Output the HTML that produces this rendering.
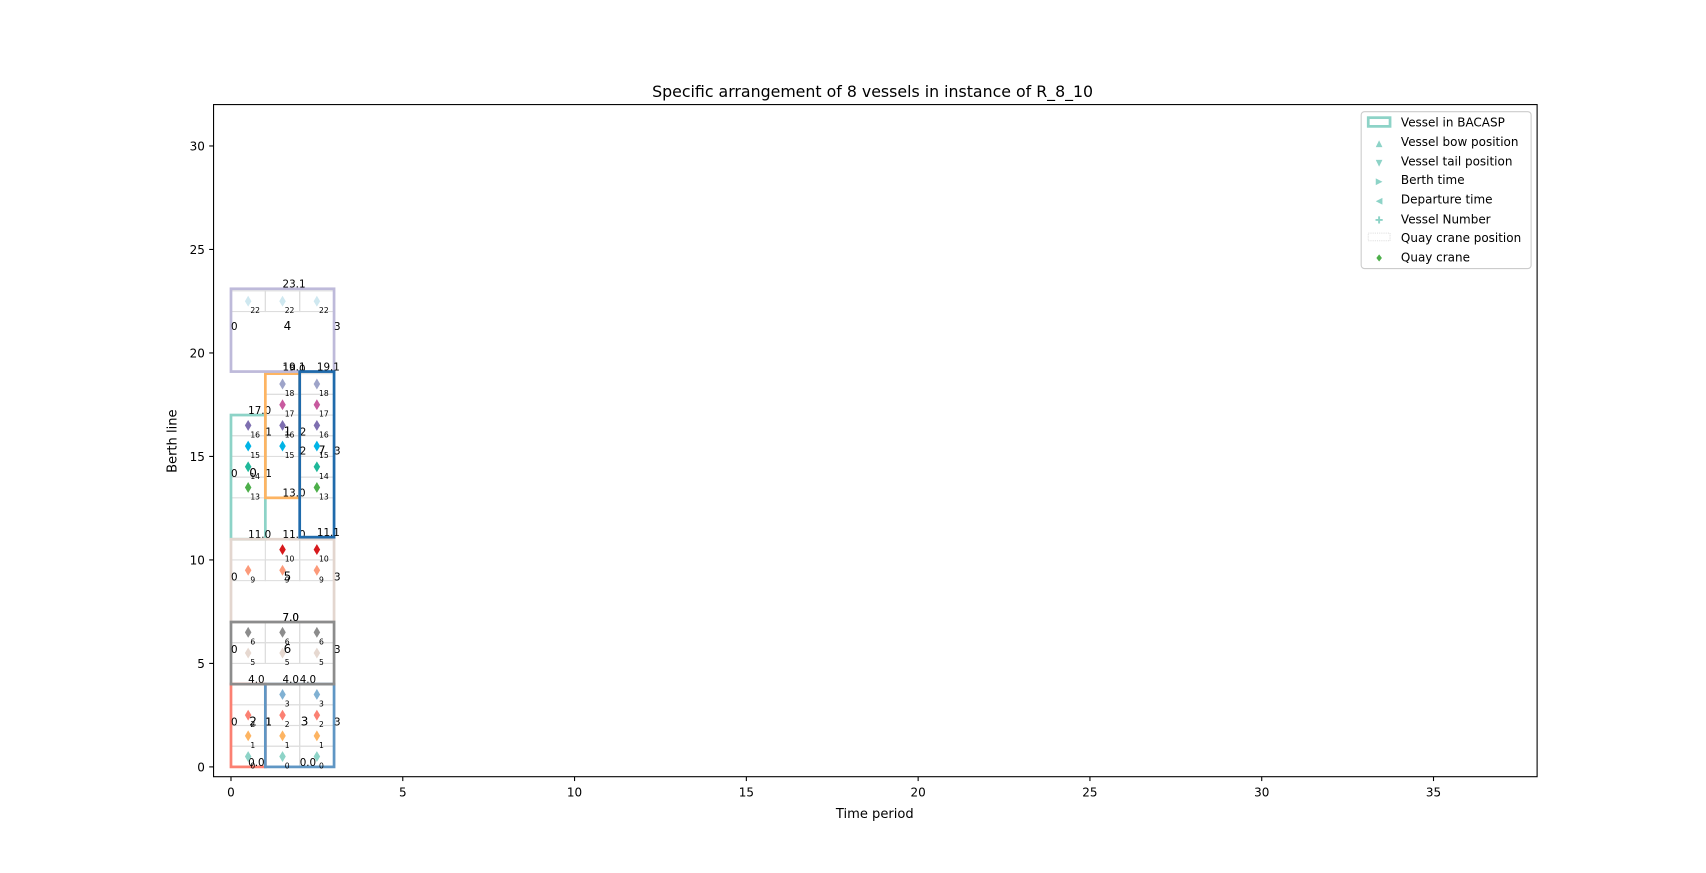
<!DOCTYPE html>
<html><head><meta charset="utf-8">
<style>
body{margin:0;background:#fff;}
svg{display:block;font-family:"DejaVu Sans","Liberation Sans",sans-serif;}
</style></head>
<body>
<svg id="chart" width="1706" height="873" viewBox="0 0 1566 801.4">
<rect width="1566" height="802" fill="#fff"/>
<text x="801" y="89" font-size="14.5" text-anchor="middle">Specific arrangement of 8 vessels in instance of R_8_10</text>
<g id="plot"></g>
<rect x="196" y="96" width="1215" height="617" fill="none" stroke="#000" stroke-width="1"/>
<text x="803" y="751" font-size="12" text-anchor="middle">Time period</text>
<text x="0" y="0" font-size="12" text-anchor="middle" transform="translate(162,405) rotate(-90)">Berth line</text>
<g>
<rect x="1249.5" y="102.5" width="156" height="144" rx="3" fill="#fff" stroke="#ccc"/>
<rect x="1256" y="108" width="20" height="8" fill="none" stroke="#8dd3c7" stroke-width="2.5"/>
<text x="1286" y="116" font-size="11">Vessel in BACASP</text>
<text x="1266" y="134" font-size="8" fill="#8dd3c7" text-anchor="middle">▲</text>
<text x="1286" y="134" font-size="11">Vessel bow position</text>
<text x="1266" y="152" font-size="8" fill="#8dd3c7" text-anchor="middle">▼</text>
<text x="1286" y="152" font-size="11">Vessel tail position</text>
<text x="1266" y="169" font-size="8" fill="#8dd3c7" text-anchor="middle">▶</text>
<text x="1286" y="169" font-size="11">Berth time</text>
<text x="1266" y="187" font-size="8" fill="#8dd3c7" text-anchor="middle">◀</text>
<text x="1286" y="187" font-size="11">Departure time</text>
<text x="1266" y="205" font-size="9" fill="#8dd3c7" text-anchor="middle">✚</text>
<text x="1286" y="205" font-size="11">Vessel Number</text>
<rect x="1256" y="214" width="20" height="7" fill="none" stroke="#ddd" stroke-dasharray="1,1"/>
<text x="1286" y="222" font-size="11">Quay crane position</text>
<text x="1266" y="240" font-size="9" fill="#4daf4a" text-anchor="middle">♦</text>
<text x="1286" y="240" font-size="11">Quay crane</text>
</g>
</svg>
<script>
const xTicks=[0,5,10,15,20,25,30,35];
const yTicks=[0,5,10,15,20,25,30];
const vesselIds=[0,1,2,3,4,5,6,7];
const vesselStart=[0,1,0,1,0,0,0,2];
const vesselEnd=[1,2,1,3,3,3,3,3];
const vesselLow=[11.0,13.0,0.0,0.0,19.1,7.0,4.0,11.1];
const vesselHigh=[17.0,19.0,4.0,4.0,23.1,11.0,7.0,19.1];
const vesselColors=['#8dd3c7','#fdb462','#fb8072','#5f96c4','#bebada','#e3d6cf','#8c8c8c','#1f6aab'];
const craneTime=[0,0,0,0,0,0,0,0,0,0,0, 1,1,1,1,1,1,1,1,1,1,1,1,1, 2,2,2,2,2,2,2,2,2,2,2,2,2,2,2];
const craneRow=[0,1,2,5,6,9,13,14,15,16,22, 0,1,2,3,5,6,9,10,15,16,17,18,22, 0,1,2,3,5,6,9,10,13,14,15,16,17,18,22];
const craneColorMap={0:'#8dd3c7',1:'#fdb462',2:'#fb8072',3:'#80b1d3',5:'#e6d8d0',6:'#8c8c8c',9:'#fc9a7a',10:'#d7191c',13:'#4daf4a',14:'#1fb89a',15:'#00b4e6',16:'#7e6fb0',17:'#c85a9f',18:'#9ea4c9',22:'#cfe8f0'};
const X0=212,XS=31.54,Y0=704,YS=19.0;
function xs(v){return X0+v*XS;}
function ys(v){return Y0-v*YS;}
const NS='http://www.w3.org/2000/svg';
const svg=document.getElementById('chart');
const plot=document.getElementById('plot');
function mk(tag,attrs,parent){const e=document.createElementNS(NS,tag);for(const k in attrs)e.setAttribute(k,attrs[k]);(parent||plot).appendChild(e);return e;}
xTicks.forEach(t=>{
 const l=mk('line',{x1:xs(t),x2:xs(t),y1:713,y2:717,stroke:'#000'},svg);
 
 
 const tx=mk('text',{x:xs(t),y:731,'font-size':11,'text-anchor':'middle'},svg);tx.textContent=t;
 
 
});
yTicks.forEach(t=>{
 const l=mk('line',{x1:192,x2:196,y1:ys(t),y2:ys(t),stroke:'#000'},svg);
 
 
 const tx=mk('text',{x:188,y:ys(t)+4,'font-size':11,'text-anchor':'end'},svg);tx.textContent=t;
 
 
});
for(let i=0;i<craneTime.length;i++){
 const t=craneTime[i],r=craneRow[i];
 const c=mk('rect',{x:xs(t),y:ys(r+1),width:XS,height:YS,fill:'none',stroke:'#ddd','stroke-width':1});
 
 
}
vesselIds.forEach((id,i)=>{
 const col=vesselColors[i];
 const x1=xs(vesselStart[i]),x2=xs(vesselEnd[i]),y1=ys(vesselHigh[i]),y2=ys(vesselLow[i]);
 const r=mk('rect',{x:x1,y:y1,width:x2-x1,height:y2-y1,fill:'none',stroke:col,'stroke-width':2.5});
 
 
 const mx=(x1+x2)/2,my=(y1+y2)/2;
 const n=mk('text',{x:mx+1,y:my,'font-size':11});n.textContent=id;
 
 
 const b=mk('text',{x:x1,y:my,'font-size':9.5});b.textContent=vesselStart[i];
 
 
 const d=mk('text',{x:x2,y:my,'font-size':9.5});d.textContent=vesselEnd[i];
 
 
 const bw=mk('text',{x:mx,y:y1-1,'font-size':9.5});bw.textContent=vesselHigh[i].toFixed(1);
 
 
 const tl=mk('text',{x:mx,y:y2-1,'font-size':9.5});tl.textContent=vesselLow[i].toFixed(1);
 
 
});
for(let i=0;i<craneTime.length;i++){
 const t=craneTime[i],r=craneRow[i];
 const cx=xs(t+0.5),cy=ys(r+0.5);
 const p=mk('path',{d:`M${cx},${cy-5} L${cx+3},${cy} L${cx},${cy+5} L${cx-3},${cy} Z`,fill:craneColorMap[r]||'#999'});
 
 
 const l=mk('text',{x:cx+2,y:cy+11,'font-size':7});l.textContent=r;
 
 
}
</script>
</body></html>
